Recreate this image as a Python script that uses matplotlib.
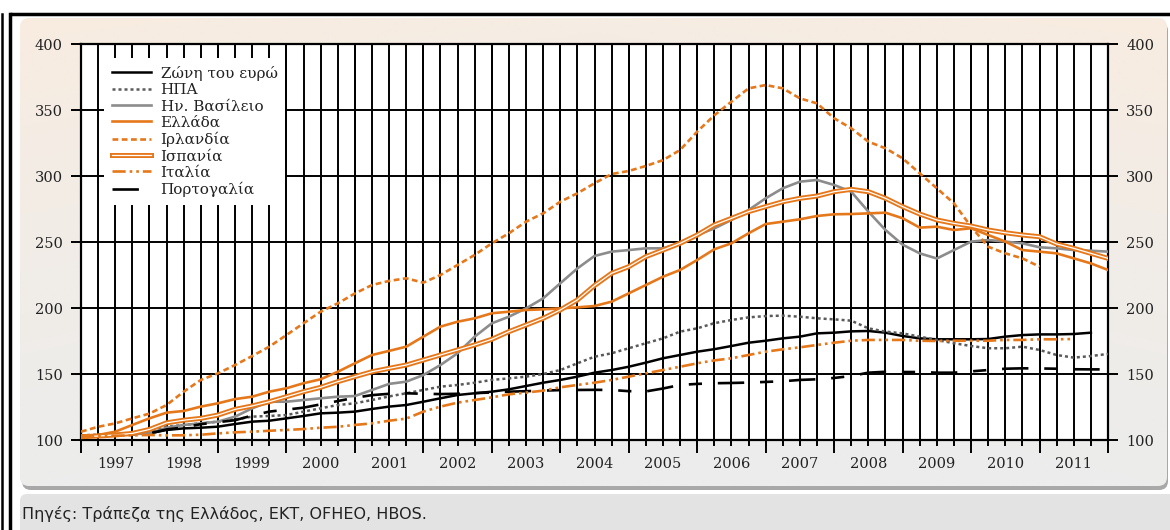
import numpy as np
import matplotlib
matplotlib.use('Agg')
import matplotlib.pyplot as plt
import matplotlib.patheffects as pe
from matplotlib.patches import FancyBboxPatch
from matplotlib.ticker import FixedLocator, FuncFormatter, NullFormatter

# Δεδομένα (τριμηνιαία, 1997 Α' τρίμ. = πρώτο σημείο)
years = list(range(1997, 2012))

zona_eurou = [103, 103.5, 104, 104.5, 105, 107.6, 108.8, 109.3, 110.1, 112.1, 113.9, 114.6, 116.4, 118.2, 120.2,
              120.7, 121.5, 123.5, 125.3, 126.5, 129, 131.6, 134.1, 135.4, 136.6, 138.4, 140.9, 143.4, 145.5, 148,
              151, 153, 155.5, 158.6, 161.9, 164.4, 166.9, 168.8, 171.2, 173.7, 175.2, 177, 178.3, 180.8, 181.3,
              182.3, 182.6, 181.3, 178.8, 177, 176.3, 176.3, 176.3, 176.5, 178.3, 179.5, 180, 180, 180.3, 181.3]
ipa = [103.5, 104, 104.5, 105, 106.3, 110, 111.4, 112.6, 113.9, 115.6, 117.7, 118.2, 118.9, 121.5, 124,
       126.5, 127.8, 130.3, 133, 135.4, 137.9, 140.4, 141.7, 143.4, 145.5, 146.7, 148, 150, 153, 158.1,
       163.1, 165.7, 169.5, 173.3, 177, 182.1, 184.6, 188.5, 190.9, 192.9, 193.9, 194.2, 193.4, 192.2, 191.4,
       190.4, 184.6, 182.1, 180.8, 178.3, 175.8, 173.3, 171.2, 169.5, 169.5, 170.7, 168.2, 164.4, 162.4, 163.6, 165.2]
hv_vasileio = [103, 103.5, 104, 104.5, 105, 109.3, 111.4, 112.6, 113.9, 117.7, 124, 129, 129, 130.3, 131.6,
               132.8, 133.3, 137.9, 142.5, 144.2, 149.2, 156.8, 165.7, 178.3, 188.4, 193.4, 199.7, 207.3, 218.7, 230,
               239.4, 242.7, 243.9, 245.2, 245.2, 249, 255.3, 260.3, 266.7, 274.2, 283.1, 290.7, 295.7, 297, 293.2,
               288.1, 273, 259.1, 248, 241.4, 237.5, 243.9, 250.3, 251.5, 250.3, 249, 246, 245.2, 243.9, 243.4, 242.7]
ellada = [103, 103.8, 106.3, 111.4, 116.4, 120.7, 122, 125.3, 127.8, 131, 132.8, 136.6, 139.2, 143, 146,
          151.7, 158.1, 164.4, 167.5, 170.7, 178.3, 185.9, 189.6, 192.2, 196, 197.2, 198.5, 199, 199.7, 200.5,
          201.5, 204.8, 211.1, 217.4, 223.7, 228.8, 236.4, 244.5, 249, 256.6, 263.6, 265.4, 267.2, 269.7, 271,
          271.2, 271.7, 272.2, 268, 260.9, 261.6, 259.1, 260.4, 255.3, 250.3, 243.9, 242.7, 241.4, 237.6, 233.8, 228.8]
irlandia = [106.3, 110, 112.6, 116.4, 120, 126.5, 136.6, 145.5, 150.5, 156.8, 163.6, 170.7, 179.5, 188.4, 197.2,
            203.5, 211, 217.4, 220.5, 222.5, 219.2, 225, 232.6, 240.2, 249, 256.6, 265.4, 271.7, 280.5, 286.9,
            294.5, 301.5, 303.8, 307.6, 312, 319.7, 333.6, 346, 356.3, 366.4, 368.9, 366.4, 358.8, 355, 343.7,
            336.1, 326, 321, 313.4, 302, 290.7, 279.3, 261.6, 246.4, 241.4, 237.6, 231.3]
ispania = [102.5, 103, 103.8, 105, 108, 113, 115, 116.4, 118.9, 123.2, 125.8, 129, 132.8, 136.6, 139.9,
           144.2, 148, 151.7, 154.3, 156.8, 160.6, 164.4, 168.2, 172, 176.3, 182.1, 187.1, 192.2, 198.5, 206.1,
           217, 226.3, 231.3, 238.9, 243.9, 249, 255.3, 262.9, 267.9, 273, 276.8, 280.5, 283.1, 284.8, 288.1,
           289.9, 288.1, 283.1, 276.8, 271.2, 266.7, 264.1, 262.1, 259.1, 257, 255.3, 254, 248.5, 245.2, 241.4, 237.6]
italia = [102.5, 103, 103.3, 103.5, 103.8, 103.5, 103.6, 104, 105, 105.8, 106.3, 107, 107.6, 108.3, 109.3,
          110, 111.4, 112.6, 114.6, 116.2, 121.5, 125.3, 128.3, 130.3, 132.3, 134.6, 135.9, 137.4, 139.9, 141.7,
          143.4, 145.5, 148, 150.5, 153, 155.5, 158.1, 160.3, 161.9, 164.4, 166.9, 168.7, 170.2, 172, 173.7,
          175.2, 175.8, 175.8, 175.8, 175.2, 175, 175.2, 175.2, 175.2, 175.8, 175.8, 176.3, 176.3, 176.5]
portogalia = [103, 103.5, 104, 104.5, 105, 108, 109.5, 112, 113.5, 115, 118.5, 121.5, 123, 124.5, 127,
              129.5, 132, 134, 135, 135.4, 135, 134.8, 135, 135.5, 136, 136.6, 137, 137.4, 137.8, 137.9,
              138, 137.9, 137, 136.8, 139, 141.7, 142.5, 143, 143.2, 143.5, 144, 144.5, 145.5, 146, 147,
              148.5, 151, 151.7, 151.5, 151.5, 151, 151, 152, 153, 154, 154.3, 154.2, 154, 153.6, 153.5, 153.5]


def q(series):
    return 1997 + np.arange(len(series)) / 4.0


orange = '#e6781c'
serif = 'DejaVu Serif'
W, H = 1170, 530
fig = plt.figure(figsize=(W / 100, H / 100), dpi=100)

# Φόντο: πλαίσια, διαβάθμιση, γραμμή πηγών
bg = fig.add_axes([0, 0, 1, 1], zorder=-5)
bg.set_xlim(0, W)
bg.set_ylim(H, 0)
bg.axis('off')
shadow = FancyBboxPatch((22, 22), 1146, 468, boxstyle='round,pad=0,rounding_size=9',
                        fc='#a8a8a8', ec='none', zorder=-2)
bg.add_patch(shadow)
panel = FancyBboxPatch((20, 18), 1147, 468, boxstyle='round,pad=0,rounding_size=9',
                       fc='none', ec='none', zorder=-1)
bg.add_patch(panel)
yy = np.linspace(0, 1, 200)[:, None]
xx = np.linspace(0, 1, 300)[None, :]
t = np.clip(yy ** 0.8 + 0.25 * (1 - np.abs(xx - 0.5) * 2), 0, 1)
top = np.array([249, 236, 224]) / 255
bot = np.array([236, 236, 236]) / 255
grad = top[None, None, :] * (1 - t[..., None]) + bot[None, None, :] * t[..., None]
im = bg.imshow(grad, extent=[20, 1167, 486, 18], origin='upper', aspect='auto', zorder=0)
im.set_clip_path(panel)
src = FancyBboxPatch((20, 494), 1160, 50, boxstyle='round,pad=0,rounding_size=7',
                     fc='#e3e3e3', ec='none', zorder=1)
bg.add_patch(src)
bg.plot([10, W], [14, 14], color='black', lw=2.5, solid_capstyle='butt', zorder=3)
bg.plot([2, 2], [14, H], color='black', lw=1.8, zorder=3)
bg.plot([9.5, 9.5], [14, H], color='black', lw=2.5, zorder=3)
bg.text(22, 514, 'Πηγές: Τράπεζα της Ελλάδος, ΕΚΤ, OFHEO, HBOS.', fontsize=11.5,
        family='DejaVu Sans', color='#222222', va='center', ha='left', zorder=4)

# Κύριο διάγραμμα
ax = fig.add_axes([81 / W, 1 - 440 / H, 1027 / W, 396 / H])
ax.set_facecolor('white')

ax.plot(q(zona_eurou), zona_eurou, color='black', lw=1.8, label='Ζώνη του ευρώ', zorder=5)
ax.plot(q(ipa), ipa, color='#5a5a5a', lw=1.8, ls=(0, (1.2, 1.2)), label='ΗΠΑ', zorder=5)
ax.plot(q(hv_vasileio), hv_vasileio, color='#8c8c8c', lw=1.9, label='Ην. Βασίλειο', zorder=5)
ax.plot(q(ellada), ellada, color=orange, lw=1.9, label='Ελλάδα', zorder=6)
ax.plot(q(irlandia), irlandia, color=orange, lw=1.9, ls=(0, (2.2, 1.3)), label='Ιρλανδία', zorder=6)
ax.plot(q(ispania), ispania, color='white', lw=0.9, label='Ισπανία', zorder=6,
        path_effects=[pe.Stroke(linewidth=3.6, foreground=orange), pe.Normal()])
ax.plot(q(italia), italia, color=orange, lw=1.9, ls=(0, (5, 1.5, 1, 1.5, 1, 1.5)), label='Ιταλία', zorder=6)
ax.plot(q(portogalia), portogalia, color='black', lw=1.9, ls=(0, (10, 6, 5, 6)), label='Πορτογαλία', zorder=5)

ax.set_xlim(1997, 2012)
ax.set_ylim(100, 400)

# Άξονας x: κατακόρυφες γραμμές ανά τρίμηνο, ετικέτες στο μέσο του έτους
quarters = 1997 + np.arange(61) / 4.0
ax.xaxis.remove_overlapping_locs = False
ax.xaxis.set_major_locator(FixedLocator(np.arange(1997, 2013)))
ax.xaxis.set_major_formatter(NullFormatter())
ax.xaxis.set_minor_locator(FixedLocator(quarters))


def year_label(x, pos):
    if abs((x - 0.5) - round(x - 0.5)) < 1e-6 and int(round(x - 0.5)) in years:
        return str(int(round(x - 0.5)))
    return ''


ax.xaxis.set_minor_formatter(FuncFormatter(year_label))
ax.tick_params(axis='x', which='major', length=9, width=1.4, color='black')
ax.tick_params(axis='x', which='minor', length=4, width=1.4, color='black', pad=8,
               labelsize=10.5, labelcolor='#222222')

ax.set_yticks([100, 150, 200, 250, 300, 350, 400])
ax.tick_params(axis='y', which='major', length=7, width=1.4, left=True, right=True,
               labelleft=True, labelright=True, labelsize=10.5, labelcolor='#222222', pad=6)
for lab in ax.get_xticklabels(which='both') + ax.get_yticklabels():
    lab.set_family(serif)
for lab in ax.yaxis.get_ticklabels(which='major'):
    lab.set_family(serif)

ax.grid(True, axis='x', which='both', color='black', lw=1.4, zorder=1)
ax.grid(True, axis='y', which='major', color='black', lw=1.4, zorder=1)
ax.set_axisbelow(True)
for s in ax.spines.values():
    s.set_color('black')
    s.set_linewidth(1.6)

leg = ax.legend(loc='upper left', bbox_to_anchor=(104 / W, 1 - 58 / H), bbox_transform=fig.transFigure,
                frameon=True, fancybox=False, edgecolor='none', facecolor='white', framealpha=1,
                prop={'family': serif, 'size': 11}, handlelength=2.6, handletextpad=0.6,
                labelspacing=0.15, borderpad=0.5, borderaxespad=0)
leg.set_zorder(10)
for txt in leg.get_texts():
    txt.set_color('#222222')

plt.savefig('out.png', dpi=100)
